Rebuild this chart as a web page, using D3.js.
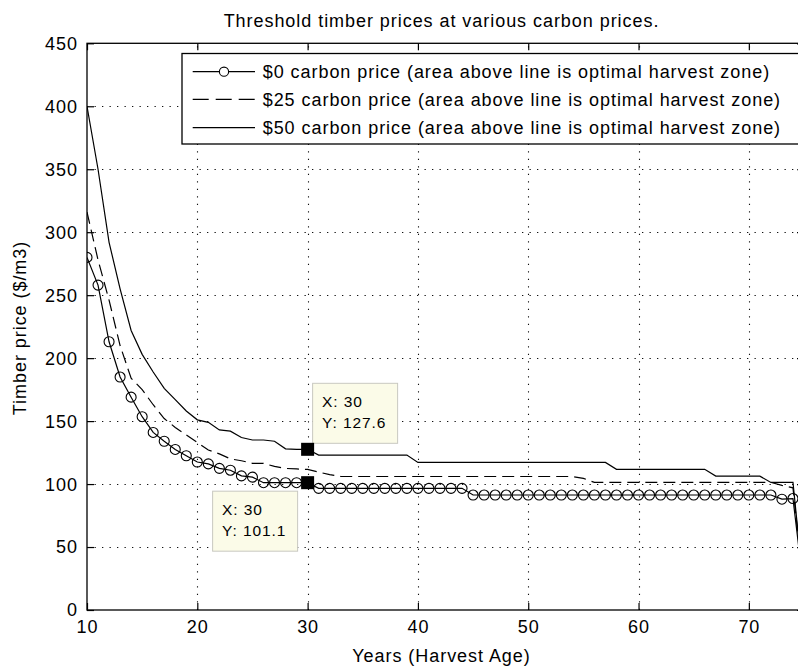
<!DOCTYPE html>
<html><head><meta charset="utf-8">
<script src="https://cdn.jsdelivr.net/npm/d3@7"></script>
<style>
html,body{margin:0;padding:0;background:#fff;}
svg{display:block;}
text{font-family:"Liberation Sans",Arial,sans-serif;fill:#000;}
</style></head><body>
<svg id="chart" width="798" height="666"></svg>
<script>
const years = [10,11,12,13,14,15,16,17,18,19,20,21,22,23,24,25,26,27,28,29,30,31,32,33,34,35,36,37,38,39,40,41,42,43,44,45,46,47,48,49,50,51,52,53,54,55,56,57,58,59,60,61,62,63,64,65,66,67,68,69,70,71,72,73,74,75];
const price0 = [280,258,213,185,169,153.5,141,134,127.5,122.5,117.5,116,112.5,111,106.5,105.5,101.1,101.1,101.1,101.1,101.1,
  96.6,96.6,96.6,96.6,96.6,96.6,96.6,96.6,96.6,96.6,96.6,96.6,96.6,96.6,
  91.3,91.3,91.3,91.3,91.3,91.3,91.3,91.3,91.3,91.3,91.3,91.3,91.3,91.3,91.3,91.3,91.3,91.3,91.3,91.3,91.3,91.3,91.3,91.3,91.3,91.3,91.3,91.3,
  88,88.5,15];
const price25 = [316,278,246,210,184,175,163,152,145,139,133,127,124,120,118.5,116.5,116.5,114,112.4,112,111.6,109.5,107.5,
  106,106,106,106,106,106,106,106,106,106,106,106,106,106,106,106,106,106,106,106,106,106,
  104.5,
  101.3,101.3,101.3,101.3,101.3,101.3,101.3,101.3,101.3,101.3,101.3,101.3,101.3,101.3,101.3,101.3,101.3,
  99,97,15];
const price50 = [400,350,292,255,222,203,189,176,167,158,151,149,143,142,137,135,135,134,128,127.6,127.6,
  123,123,123,123,123,123,123,123,123,
  117.2,117.2,117.2,117.2,117.2,117.2,117.2,117.2,117.2,117.2,117.2,117.2,117.2,117.2,117.2,117.2,117.2,117.2,
  111.7,111.7,111.7,111.7,111.7,111.7,111.7,111.7,111.7,
  106.3,106.3,106.3,106.3,106.3,
  101.3,101.3,101.3,
  15];
const seriesLabels = [
  "$0 carbon price (area above line is optimal harvest zone)",
  "$25 carbon price (area above line is optimal harvest zone)",
  "$50 carbon price (area above line is optimal harvest zone)"
];
const xTicks = [10,20,30,40,50,60,70];
const yTicks = [0,50,100,150,200,250,300,350,400,450];
const tipX = [30,30];
const tipY = [127.6,101.1];
const titleText = "Threshold timber prices at various carbon prices.";
const xLabel = "Years (Harvest Age)";
const yLabel = "Timber price ($/m3)";

const svg = d3.select("#chart");
const L = 87, R = 804, T = 43.3, B = 610;
const x = d3.scaleLinear().domain([10,75]).range([L,R]);
const y = d3.scaleLinear().domain([0,450]).range([B,T]);
const LS = "0.95px";

svg.append("rect").attr("width",798).attr("height",666).attr("fill","#fff");

// grid
const grid = svg.append("g").attr("stroke","#111").attr("stroke-width",1.1).attr("stroke-dasharray","1.3 6.2");
yTicks.filter(v=>v>0 && v<450).forEach(v=>{
  grid.append("line").attr("x1",L).attr("x2",R).attr("y1",Math.round(y(v))+0.5).attr("y2",Math.round(y(v))+0.5);
});
xTicks.filter(v=>v>10).forEach(v=>{
  grid.append("line").attr("y1",B).attr("y2",T).attr("x1",Math.round(x(v))+0.5).attr("x2",Math.round(x(v))+0.5);
});

// axes via d3
const xAxisB = d3.axisBottom(x).tickValues(xTicks).tickSize(-7).tickPadding(14).tickFormat(d3.format("d"));
const xAxisT = d3.axisTop(x).tickValues(xTicks).tickSize(-7).tickFormat("");
const yAxisL = d3.axisLeft(y).tickValues(yTicks).tickSize(-7).tickPadding(16).tickFormat(d3.format("d"));
const yAxisR = d3.axisRight(y).tickValues(yTicks).tickSize(-7).tickFormat("");
function styleAxis(g){
  g.select(".domain").remove();
  g.selectAll(".tick line").attr("stroke","#000").attr("stroke-width",1.2);
  g.selectAll("text").attr("font-family","Liberation Sans, Arial, sans-serif").attr("font-size",18)
    .attr("letter-spacing",LS).attr("fill","#000");
}
svg.append("g").attr("transform",`translate(0,${B})`).call(xAxisB).call(styleAxis)
  .selectAll("text").attr("dy",null).attr("y",23);
svg.append("g").attr("transform",`translate(0,${T})`).call(xAxisT).call(styleAxis);
svg.append("g").attr("transform",`translate(${L},0)`).call(yAxisL).call(styleAxis)
  .selectAll("text").attr("dy","0.33em").attr("x",-9);
svg.append("g").attr("transform",`translate(${R},0)`).call(yAxisR).call(styleAxis);

// box
svg.append("rect").attr("x",L).attr("y",T).attr("width",R-L).attr("height",B-T)
  .attr("fill","none").attr("stroke","#000").attr("stroke-width",1.3);

// series
svg.append("clipPath").attr("id","clip").append("rect").attr("x",L).attr("y",T).attr("width",R-L).attr("height",B-T);
const plot = svg.append("g").attr("clip-path","url(#clip)");
const line = d3.line().x((d,i)=>x(years[i])).y(d=>y(d));
plot.append("path").datum(price50).attr("d",line).attr("fill","none").attr("stroke","#000").attr("stroke-width",1.2);
plot.append("path").datum(price25).attr("d",line).attr("fill","none").attr("stroke","#000").attr("stroke-width",1.2).attr("stroke-dasharray","12 6");
plot.append("path").datum(price0).attr("d",line).attr("fill","none").attr("stroke","#000").attr("stroke-width",1.2);
plot.selectAll("circle.m").data(price0).enter().append("circle").attr("class","m")
  .attr("cx",(d,i)=>x(years[i])).attr("cy",d=>y(d)).attr("r",5)
  .attr("fill","none").attr("stroke","#000").attr("stroke-width",1.1);

// title & labels
svg.append("text").attr("x",441.5).attr("y",27).attr("text-anchor","middle").attr("font-size",18).attr("letter-spacing",LS).text(titleText);
svg.append("text").attr("x",441.5).attr("y",662).attr("text-anchor","middle").attr("font-size",18).attr("letter-spacing",LS).text(xLabel);
svg.append("text").attr("transform","translate(26,328) rotate(-90)").attr("text-anchor","middle").attr("font-size",18).attr("letter-spacing",LS).text(yLabel);

// legend
const lg = svg.append("g");
lg.append("rect").attr("x",182).attr("y",53.5).attr("width",630).attr("height",90.5).attr("fill","#fff").attr("stroke","#000").attr("stroke-width",1.3);
const rowY = [71.7,99.3,127.7];
const dashes = [null,"16 7",null];
seriesLabels.forEach((s,i)=>{
  lg.append("line").attr("x1",192.7).attr("x2",255).attr("y1",rowY[i]).attr("y2",rowY[i])
    .attr("stroke","#000").attr("stroke-width",1.2).attr("stroke-dasharray",dashes[i]);
  if(i===0) lg.append("circle").attr("cx",224).attr("cy",rowY[i]).attr("r",4.6).attr("fill","#fff").attr("stroke","#000").attr("stroke-width",1.1);
  lg.append("text").attr("x",262.7).attr("y",rowY[i]+6.5).attr("font-size",18).attr("letter-spacing",LS).text(s);
});

// data tips
const tipOffsets = [{dx:5,dy:-66,w:85,h:60},{dx:-95,dy:8.5,w:85,h:60}];
tipX.forEach((tx,i)=>{
  const px = x(tx), py = y(tipY[i]);
  const o = tipOffsets[i];
  const g = svg.append("g");
  g.append("rect").attr("x",px+o.dx).attr("y",py+o.dy).attr("width",o.w).attr("height",o.h)
    .attr("fill","#fbfbe8").attr("stroke","#c8c8c0").attr("stroke-width",1);
  g.append("text").attr("x",px+o.dx+9.5).attr("y",py+o.dy+23.5).attr("font-size",15.5).attr("letter-spacing","0.9px").text("X: "+tx);
  g.append("text").attr("x",px+o.dx+9.5).attr("y",py+o.dy+45).attr("font-size",15.5).attr("letter-spacing","0.9px").text("Y: "+tipY[i]);
  svg.append("rect").attr("x",px-6.5).attr("y",py-6.5).attr("width",13).attr("height",13).attr("fill","#000");
});
</script>
</body></html>
